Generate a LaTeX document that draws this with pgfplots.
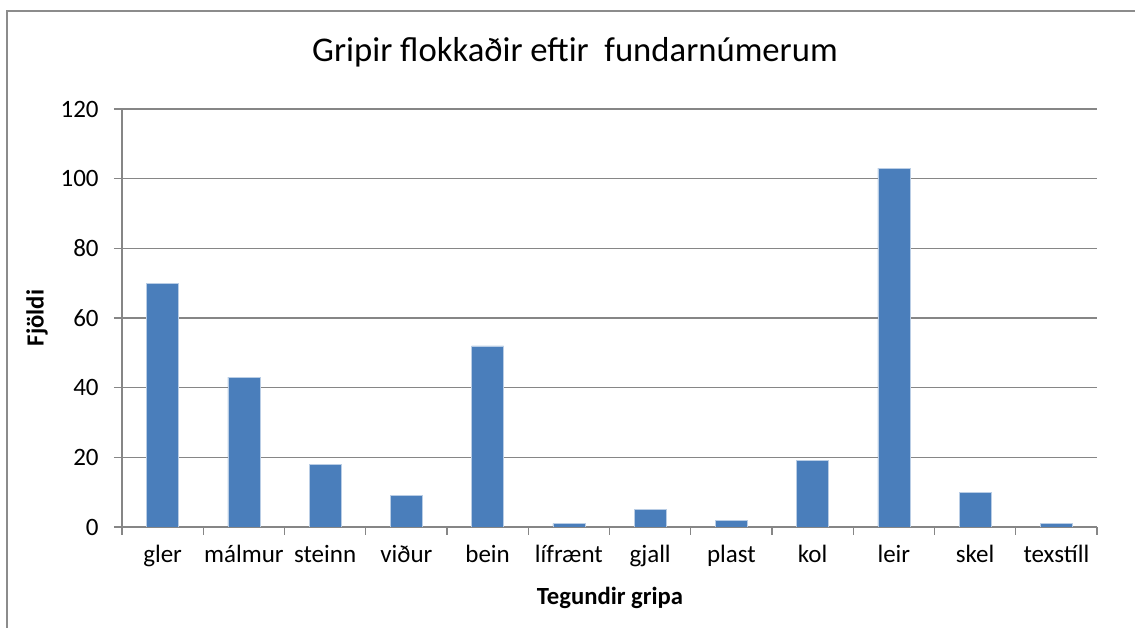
\documentclass[border=0pt]{standalone}
\usepackage{pgfplots}
\pgfplotsset{compat=1.18}
\usepackage{fontspec}
\setmainfont{Carlito}
\definecolor{barblue}{RGB}{74,126,187}
\definecolor{baredge}{RGB}{185,205,229}
\definecolor{gridgray}{RGB}{134,134,134}
\definecolor{framegray}{RGB}{140,140,140}
\begin{document}
\begin{tikzpicture}
\useasboundingbox (0,0) rectangle (851.25pt,471pt);
\begin{scope}[x=0.75pt,y=-0.75pt,shift={(0,471pt)}]
  \draw[framegray,line width=1.8pt] (7,1000) -- (7,11) -- (1200,11);
  \node[font=\fontsize{26}{30}\selectfont] at (575,52) {Gripir flokkaðir eftir\ \ fundarnúmerum};
  \node[font=\bfseries\fontsize{18.5}{20}\selectfont,rotate=90] at (37,318) {Fjöldi};
  \node[font=\bfseries\fontsize{18.5}{20}\selectfont] at (610,598) {Tegundir gripa};
\end{scope}
\begin{axis}[
  at={(91.5pt,75.75pt)}, anchor=south west,
  scale only axis, width=731.25pt, height=313.5pt,
  ymin=0, ymax=120, ytick={0,20,...,120},
  xmin=-0.5, xmax=11.5,
  xtick={0,...,11},
  xticklabels={gler,málmur,steinn,viður,bein,lífrænt,gjall,plast,kol,leir,skel,texstíll},
  minor xtick={-0.5,0.5,...,11.5},
  major x tick style={draw=none},
  minor tick length=6pt, major tick length=6pt,
  tick align=outside, tick pos=left,
  axis lines*=left,
  axis line style={gridgray, line width=0.8pt},
  tick style={gridgray, line width=0.8pt},
  ymajorgrids, major grid style={gridgray, line width=0.8pt},
  /pgf/number format/assume math mode=true,
  ticklabel style={font=\fontsize{18.75}{20}\selectfont},
  xticklabel style={yshift=-4pt},
  yticklabel style={xshift=-8pt},
  ybar, bar width=24pt, bar shift=0pt,
]
\addplot[fill=barblue, draw=baredge, line width=0.5pt] coordinates {
(0,70) (1,43) (2,18) (3,9) (4,52) (5,1) (6,5) (7,2) (8,19) (9,103) (10,10) (11,1)
};
\end{axis}
\end{tikzpicture}
\end{document}
